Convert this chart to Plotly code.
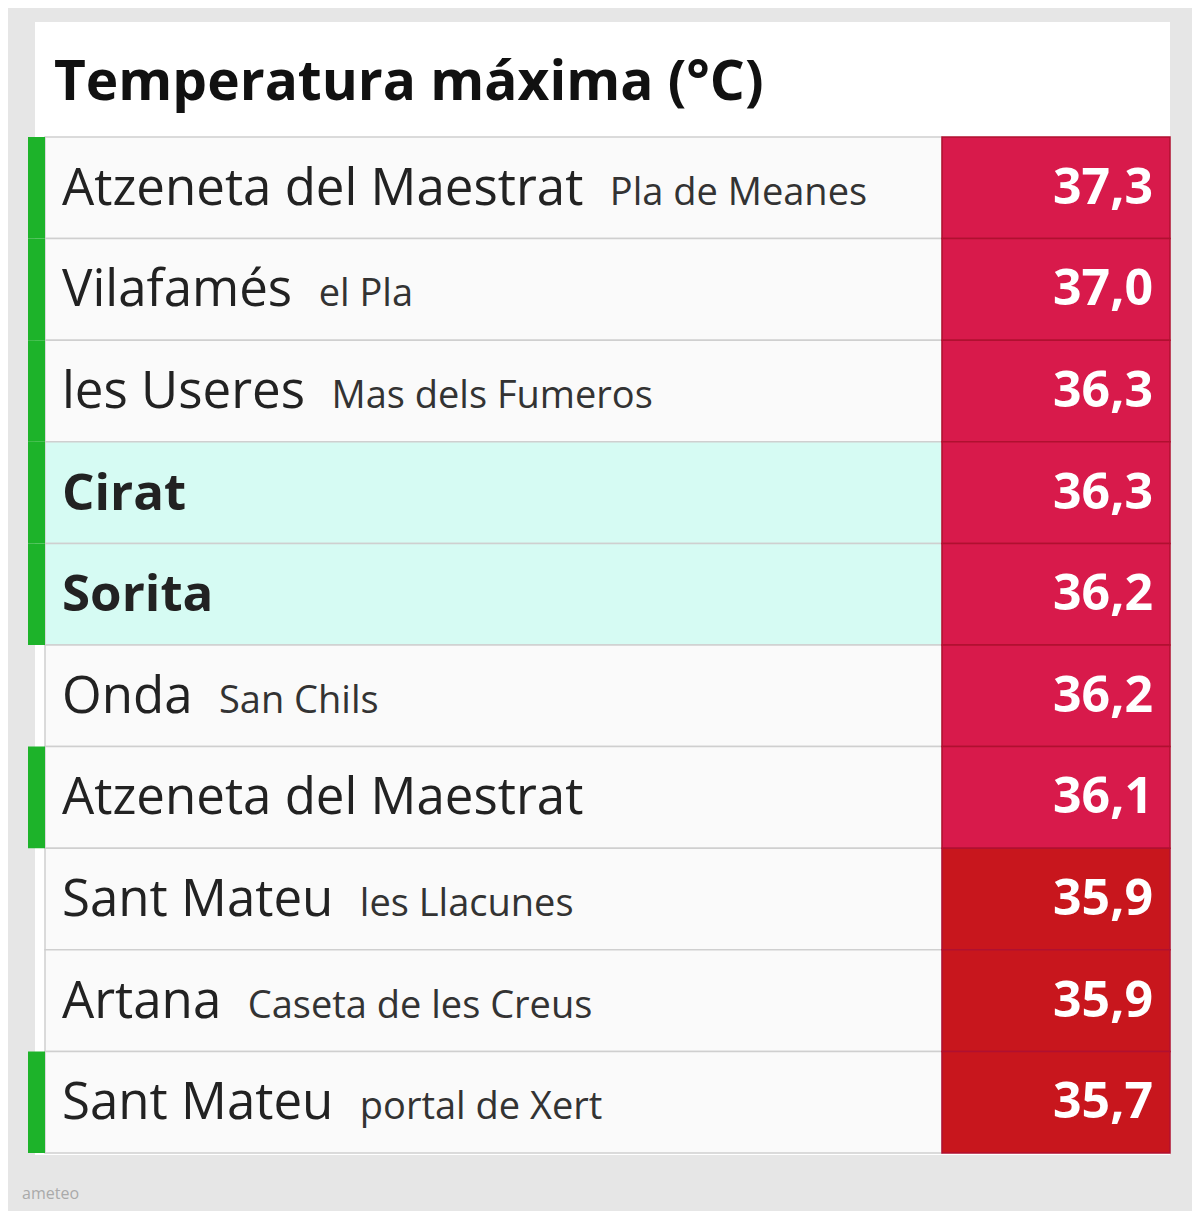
import plotly.graph_objects as go

towns = ["Atzeneta del Maestrat", "Vilafamés", "les Useres", "Cirat", "Sorita", "Onda",
         "Atzeneta del Maestrat", "Sant Mateu", "Artana", "Sant Mateu"]
sites = ["Pla de Meanes", "el Pla", "Mas dels Fumeros", "", "", "San Chils",
         "", "les Llacunes", "Caseta de les Creus", "portal de Xert"]
temps = [37.3, 37.0, 36.3, 36.3, 36.2, 36.2, 36.1, 35.9, 35.9, 35.7]
flagged = [True, True, True, True, True, False, True, False, False, True]
highlight = [False, False, False, True, True, False, False, False, False, False]

n = len(temps)
idx = list(range(n))
off = 8  # page body margin
row_top, row_h = 137, 101.6
def ry(p):
    return (p - row_top) / row_h - 0.5
y0 = ry(off)
y1 = ry(off + 1211)

fig = go.Figure()
fig.add_shape(type="rect", xref="x", yref="y", x0=35, x1=1170, y0=ry(22), y1=ry(1155),
              fillcolor="white", line_width=0, layer="below")
bg = ["#d6fbf3" if h else "#fafafa" for h in highlight]
fig.add_trace(go.Bar(orientation="h", y=idx, x=[897] * n, base=45, width=1,
                     marker=dict(color=bg, line=dict(color="#cfcfcf", width=1.5)), hoverinfo="skip"))
vc = ["#d81a4b" if t >= 36 else "#c8161d" for t in temps]
fig.add_trace(go.Bar(orientation="h", y=idx, x=[228] * n, base=942, width=1,
                     marker=dict(color=vc, line=dict(color="#b01030", width=1.5)), hoverinfo="skip"))
gi = [i for i in idx if flagged[i]]
fig.add_trace(go.Bar(orientation="h", y=gi, x=[17] * len(gi), base=28, width=1,
                     marker=dict(color="#1db32a", line_width=0), hoverinfo="skip"))

for i in idx:
    name = f"<b>{towns[i]}</b>" if highlight[i] else towns[i]
    txt = name + (f"&nbsp; <span style='font-size:38px;color:#333'>{sites[i]}</span>" if sites[i] else "")
    fig.add_annotation(x=60, y=i - 0.03, xref="x", yref="y", text=txt, showarrow=False, xanchor="left",
                       font=dict(family="Open Sans", size=51, color="#222"))
    fig.add_annotation(x=1155, y=i - 0.03, xref="x", yref="y", text=f"<b>{temps[i]:.1f}</b>".replace(".", ","),
                       showarrow=False, xanchor="right", font=dict(family="Open Sans", size=50, color="white"))

fig.add_annotation(x=52, y=ry(78), xref="x", yref="y", text="<b>Temperatura máxima (°C)</b>",
                   showarrow=False, xanchor="left", font=dict(family="Open Sans", size=55, color="#111"))
fig.add_annotation(x=20, y=ry(1193), xref="x", yref="y", text="ameteo",
                   showarrow=False, xanchor="left", font=dict(family="Open Sans", size=16, color="#aaa"))

fig.update_layout(width=1200, height=1211, margin=dict(l=0, r=0, t=0, b=0),
                  paper_bgcolor="#e6e6e6", plot_bgcolor="#e6e6e6", showlegend=False, barmode="overlay",
                  xaxis=dict(range=[off, off + 1200], visible=False, fixedrange=True),
                  yaxis=dict(range=[y1, y0], visible=False, fixedrange=True))
fig.write_html("out.html")
